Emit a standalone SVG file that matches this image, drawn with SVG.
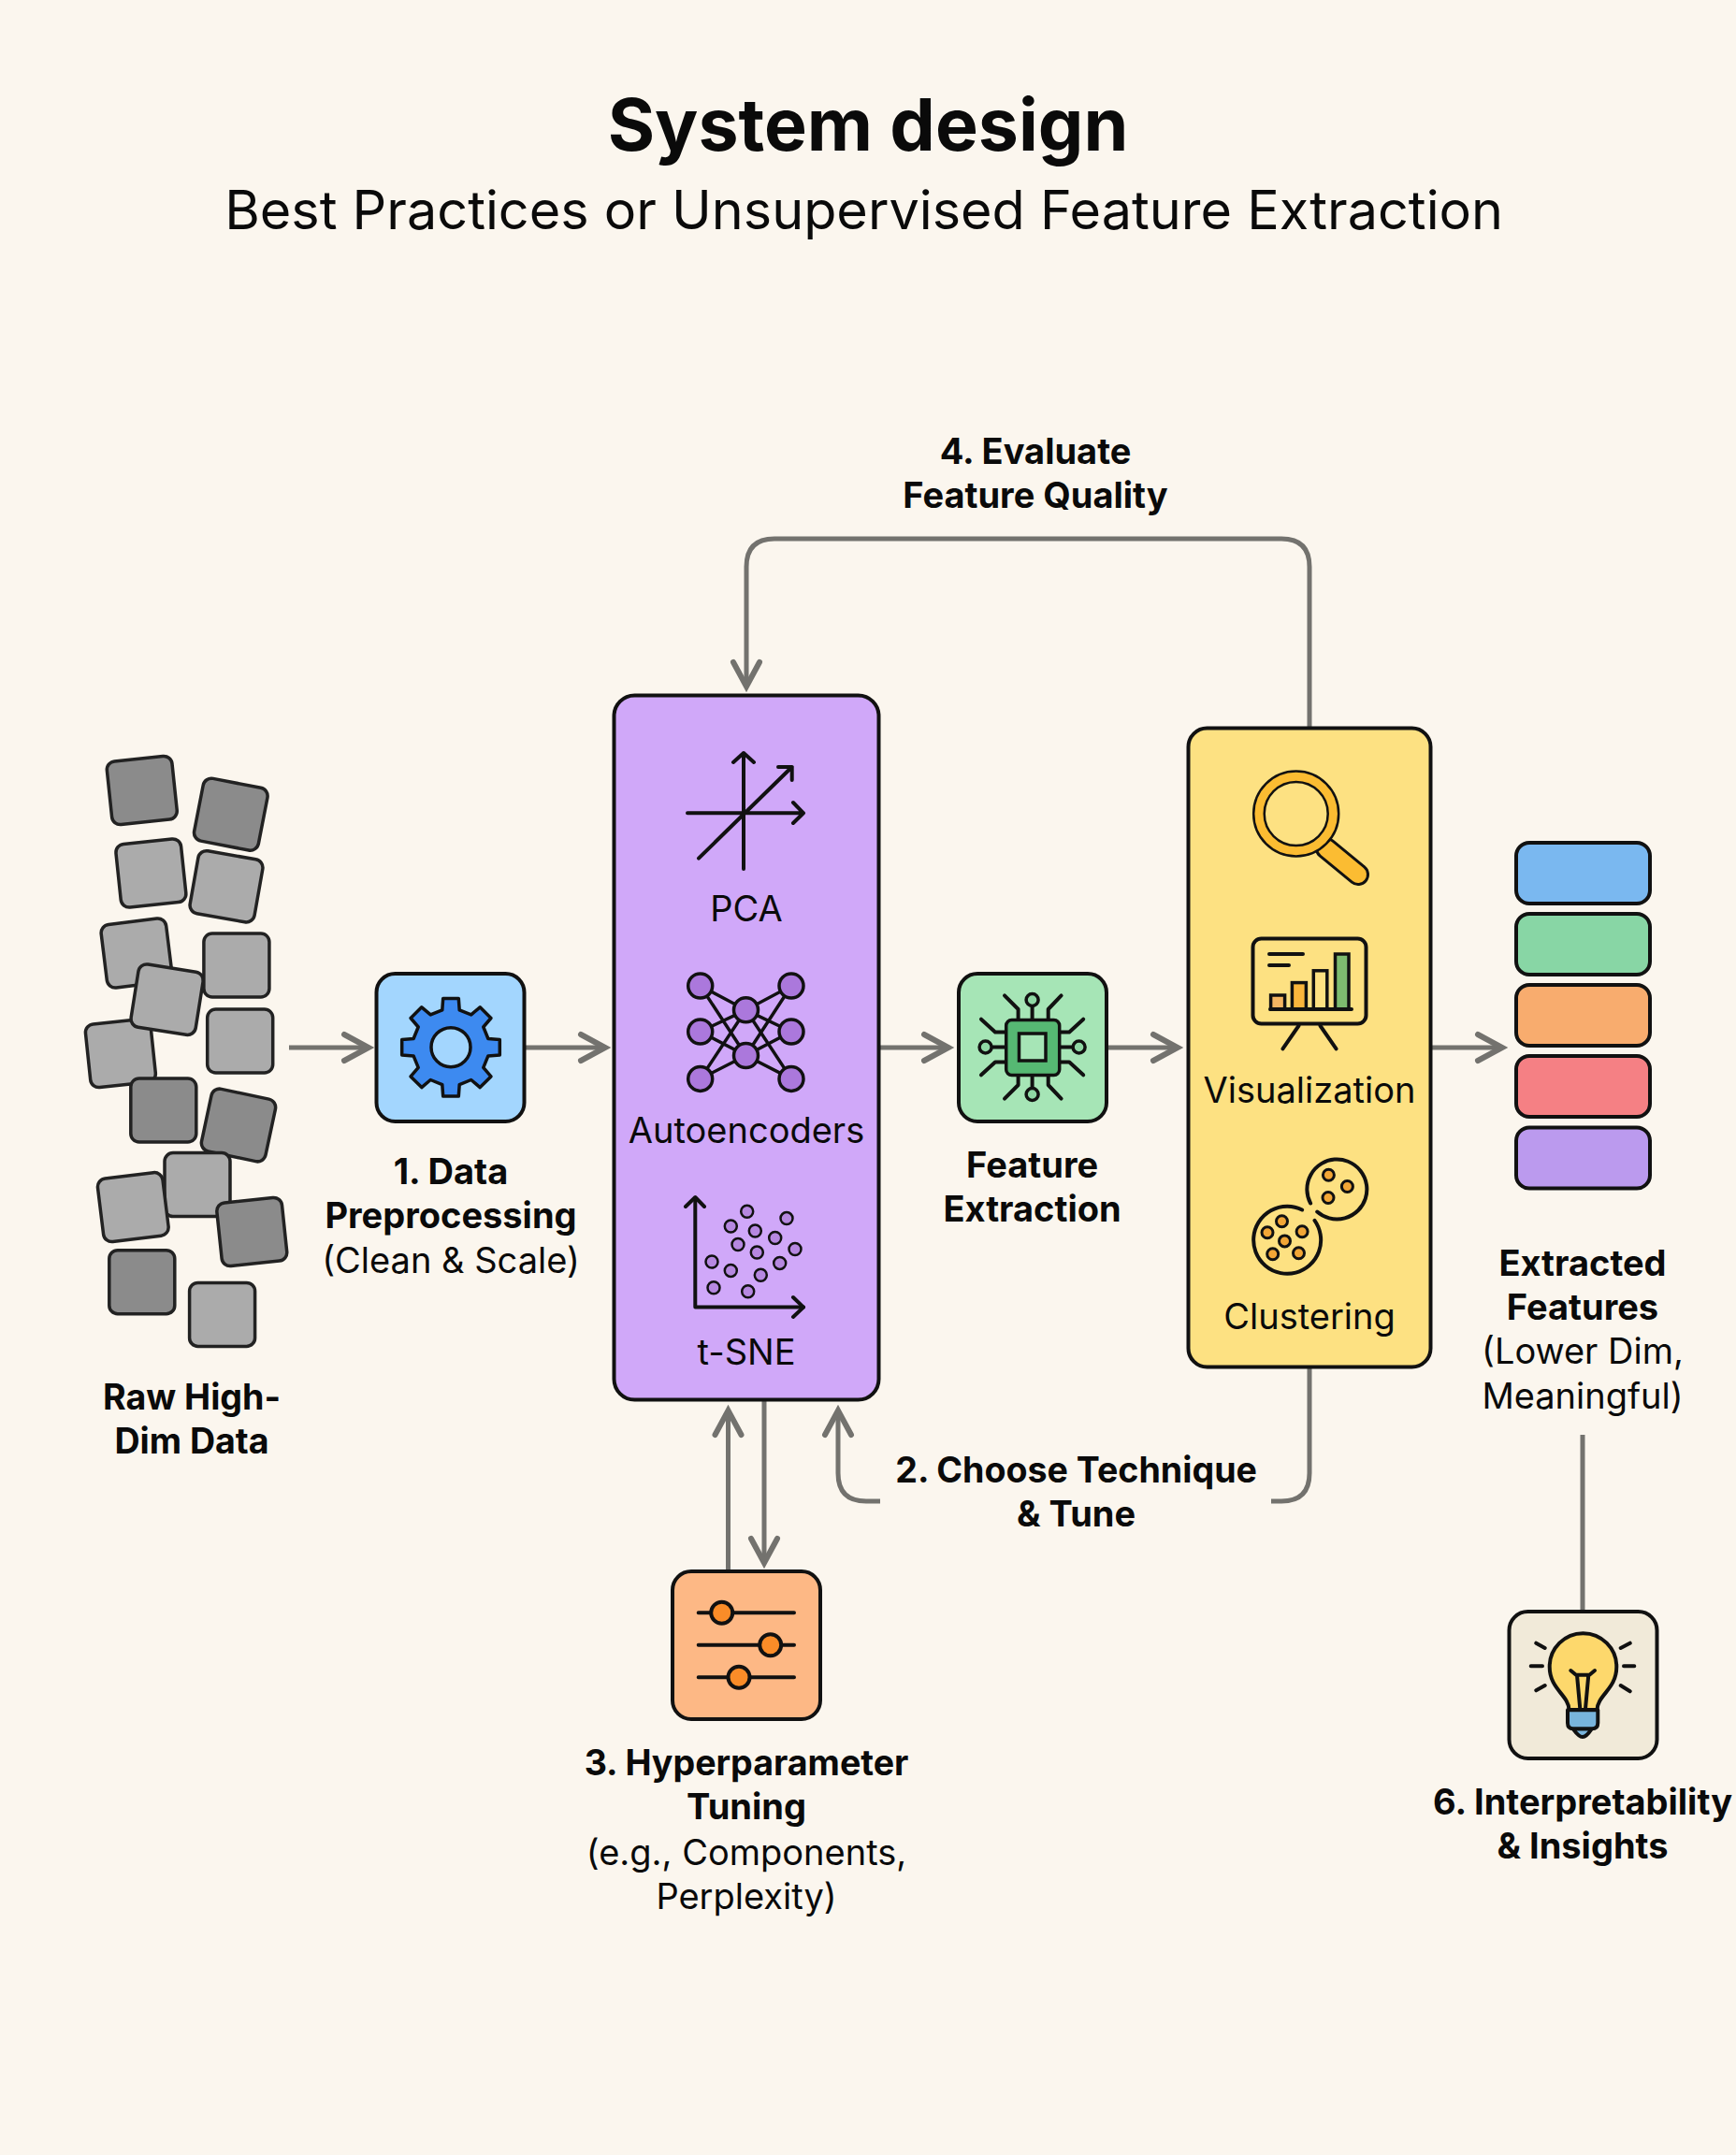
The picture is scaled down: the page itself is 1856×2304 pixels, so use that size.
<svg xmlns="http://www.w3.org/2000/svg" width="1856" height="2304" viewBox="0 0 1856 2304">
<style>
text{font-family:Inter,"Liberation Sans",sans-serif;fill:#0a0a0a;text-anchor:middle}
.t{font-size:77px;font-weight:700}
.s{font-size:57.5px;font-weight:400}
.b{font-size:38px;font-weight:700}
.b2{font-size:37.6px;font-weight:700}
.r{font-size:38px;font-weight:400}
.box{stroke:#111;stroke-width:4}
.tile{stroke:#222;stroke-width:3.5}
.d{fill:#8b8b8b}.l{fill:#ababab}
.ic{fill:none;stroke:#111;stroke-width:4;stroke-linecap:round;stroke-linejoin:round}
.con{fill:none;stroke:#73726e;stroke-width:5}
.a{marker-end:url(#arrow)}
</style>
<defs>
<marker id="arrow" markerUnits="userSpaceOnUse" markerWidth="60" markerHeight="60" refX="34" refY="30" orient="auto" overflow="visible"><path d="M8,16 L34,30 L8,44" fill="none" stroke="#73726e" stroke-width="6" stroke-linecap="round" stroke-linejoin="miter"/></marker>
</defs>
<rect id="background" width="1856" height="2304" fill="#fbf6ee"/>
<g id="title"><text class="t" x="928" y="161">System design</text><text class="s" x="923.6" y="245">Best Practices or Unsupervised Feature Extraction</text></g>

<g id="connectors">
<path class="con a" d="M309,1120H394"/>
<path class="con a" d="M561,1120H647"/>
<path class="con a" d="M940,1120H1014"/>
<path class="con a" d="M1183,1120H1259"/>
<path class="con a" d="M1530,1120H1606"/>
<path class="con a" d="M1400,778V606Q1400,576 1370,576H828Q798,576 798,606V734"/>
<path class="con a" d="M778.5,1680V1508"/>
<path class="con a" d="M817,1496V1671"/>
<path class="con" d="M1400,1461V1575Q1400,1605 1370,1605H1359"/>
<path class="con a" d="M941,1605H926Q896,1605 896,1575V1508"/>
<path class="con" d="M1692,1534V1723"/>
</g>

<g id="raw-data">
<g transform="translate(151.8,845) rotate(-6)"><rect class="tile d" x="-35" y="-34" width="70" height="68" rx="9"/></g>
<g transform="translate(246.8,870.7) rotate(11)"><rect class="tile d" x="-35" y="-34" width="70" height="68" rx="9"/></g>
<g transform="translate(161.4,933.5) rotate(-6)"><rect class="tile l" x="-35" y="-34" width="70" height="68" rx="9"/></g>
<g transform="translate(242,947.8) rotate(10)"><rect class="tile l" x="-35" y="-34" width="70" height="68" rx="9"/></g>
<g transform="translate(146,1019) rotate(-7)"><rect class="tile l" x="-35" y="-34" width="70" height="68" rx="9"/></g>
<g transform="translate(252.9,1032)"><rect class="tile l" x="-35" y="-34" width="70" height="68" rx="9"/></g>
<g transform="translate(128.9,1126) rotate(-6)"><rect class="tile l" x="-35" y="-34" width="70" height="68" rx="9"/></g>
<g transform="translate(178.6,1068.7) rotate(9)"><rect class="tile l" x="-35" y="-34" width="70" height="68" rx="9"/></g>
<g transform="translate(256.7,1113)"><rect class="tile l" x="-35" y="-34" width="70" height="68" rx="9"/></g>
<g transform="translate(174.8,1187)"><rect class="tile d" x="-35" y="-34" width="70" height="68" rx="9"/></g>
<g transform="translate(255,1203) rotate(12)"><rect class="tile d" x="-35" y="-34" width="70" height="68" rx="9"/></g>
<g transform="translate(211,1266.6)"><rect class="tile l" x="-35" y="-34" width="70" height="68" rx="9"/></g>
<g transform="translate(142.3,1290.6) rotate(-7)"><rect class="tile l" x="-35" y="-34" width="70" height="68" rx="9"/></g>
<g transform="translate(269.3,1317) rotate(-6)"><rect class="tile d" x="-35" y="-34" width="70" height="68" rx="9"/></g>
<g transform="translate(151.8,1370.7)"><rect class="tile d" x="-35" y="-34" width="70" height="68" rx="9"/></g>
<g transform="translate(237.6,1405.4)"><rect class="tile l" x="-35" y="-34" width="70" height="68" rx="9"/></g>
<text class="b2" x="205" y="1507">Raw High-</text><text class="b2" x="205" y="1554">Dim Data</text>
</g>

<g id="preprocessing">
<rect class="box" x="402.5" y="1041" width="158" height="158" rx="20" fill="#a3d6fe"/>
<g transform="translate(482,1119.7)">
<polygon fill="#3d8af0" stroke="#111" stroke-width="3.5" stroke-linejoin="round" points="-9.2,-39.9 -8.3,-52.3 8.3,-52.3 9.2,-39.9 21.7,-34.8 31.2,-42.9 42.9,-31.2 34.8,-21.7 39.9,-9.2 52.3,-8.3 52.3,8.3 39.9,9.2 34.8,21.7 42.9,31.2 31.2,42.9 21.7,34.8 9.2,39.9 8.3,52.3 -8.3,52.3 -9.2,39.9 -21.7,34.8 -31.2,42.9 -42.9,31.2 -34.8,21.7 -39.9,9.2 -52.3,8.3 -52.3,-8.3 -39.9,-9.2 -34.8,-21.7 -42.9,-31.2 -31.2,-42.9 -21.7,-34.8"/>
<circle r="21" fill="#a3d6fe" stroke="#111" stroke-width="3.5"/>
</g>
<text class="b" x="482" y="1266">1. Data</text><text class="b" x="482" y="1313">Preprocessing</text><text class="r" x="482" y="1361">(Clean &amp; Scale)</text>
</g>

<g id="techniques">
<rect class="box" x="656.5" y="743.5" width="283" height="753" rx="22" fill="#d0a8f9"/>
<path class="ic" d="M795,929V805M784,815L795,805L806,815M735,869.3H859M848,858L859,869.3L848,880M747,917.6L846.7,820M832,820H846.7V834"/>
<text class="r" x="798" y="985">PCA</text>
<g stroke="#111" stroke-width="3.5">
<path d="M748.7,1054L797.5,1079.8L748.7,1103L797.5,1128.5L748.7,1153.4L797.5,1079.8M748.7,1054L797.5,1128.5M846,1054L797.5,1079.8L846,1103L797.5,1128.5L846,1153.4L797.5,1079.8M846,1054L797.5,1128.5" fill="none"/>
<g fill="#ab78dc"><circle cx="748.7" cy="1054" r="13"/><circle cx="748.7" cy="1103" r="13"/><circle cx="748.7" cy="1153.4" r="13"/><circle cx="846" cy="1054" r="13"/><circle cx="846" cy="1103" r="13"/><circle cx="846" cy="1153.4" r="13"/><circle cx="797.5" cy="1079.8" r="13"/><circle cx="797.5" cy="1128.5" r="13"/></g>
</g>
<text class="r" x="798" y="1222">Autoencoders</text>
<path class="ic" d="M743.3,1281V1397.6H859"/><path class="ic" d="M733,1290L743.3,1280L753,1290M848,1387L859,1397.6L848,1408"/>
<g fill="#b688e0" stroke="#111" stroke-width="2.5"><circle cx="798.7" cy="1295.2" r="6.5"/><circle cx="781.3" cy="1311" r="6.5"/><circle cx="807.3" cy="1316" r="6.5"/><circle cx="841" cy="1302.6" r="6.5"/><circle cx="828.7" cy="1323.5" r="6.5"/><circle cx="789" cy="1330.5" r="6.5"/><circle cx="809.3" cy="1339" r="6.5"/><circle cx="850" cy="1335.5" r="6.5"/><circle cx="761" cy="1349" r="6.5"/><circle cx="781.3" cy="1358.4" r="6.5"/><circle cx="833.7" cy="1350.4" r="6.5"/><circle cx="813.3" cy="1363.3" r="6.5"/><circle cx="763" cy="1376.8" r="6.5"/><circle cx="799.7" cy="1380.7" r="6.5"/></g>
<text class="r" x="798" y="1459">t-SNE</text>
</g>

<g id="feature-extraction">
<rect class="box" x="1025" y="1041" width="158" height="158" rx="20" fill="#a6e5b6"/>
<g class="ic" stroke-width="3.5">
<path d="M1103.6,1090V1075M1103.6,1149V1164M1075.7,1119.5H1060M1131.5,1119.5H1147"/>
<path d="M1088.6,1090V1079L1074,1064.4M1120.7,1090V1079L1134.6,1064.4M1088.6,1149V1160L1074,1174.6M1120.7,1149V1160L1134.6,1174.6"/>
<path d="M1075.7,1103.4H1064L1049,1089.7M1075.7,1135.6H1064L1049,1149.3M1131.5,1103.4H1143.2L1158.2,1089.7M1131.5,1135.6H1143.2L1158.2,1149.3"/>
</g>
<g stroke="#111" stroke-width="3.5" fill="#8fd8a4"><circle cx="1103.6" cy="1069" r="6.5"/><circle cx="1103.6" cy="1170" r="6.5"/><circle cx="1053.6" cy="1119.5" r="6.5"/><circle cx="1153.6" cy="1119.5" r="6.5"/></g>
<rect x="1075.7" y="1090.5" width="57" height="59" rx="6" fill="#56b873" stroke="#111" stroke-width="3.5"/>
<rect x="1089.5" y="1105" width="28.5" height="29" fill="#a6e5b6" stroke="#111" stroke-width="3.5"/>
<text class="b" x="1103.6" y="1259">Feature</text><text class="b" x="1103.6" y="1306">Extraction</text>
</g>

<g id="analysis">
<rect class="box" x="1270.5" y="778.5" width="259" height="683" rx="20" fill="#fde182"/>
<line x1="1418" y1="907" x2="1452" y2="935" stroke="#111" stroke-width="24" stroke-linecap="round"/>
<line x1="1418" y1="907" x2="1452" y2="935" stroke="#fbbc32" stroke-width="18" stroke-linecap="round"/>
<circle cx="1385.7" cy="870" r="39.75" fill="#fde182" stroke="#111" stroke-width="14"/>
<circle cx="1385.7" cy="870" r="39.75" fill="none" stroke="#fbbc32" stroke-width="9"/>
<rect x="1339.5" y="1003.5" width="121" height="91" rx="9" fill="#fde182" stroke="#111" stroke-width="4"/>
<g stroke="#111" stroke-width="3.5"><rect x="1358.6" y="1064" width="15" height="15" fill="#f5b662"/><rect x="1381.4" y="1050.6" width="15" height="28.4" fill="#f9b53c"/><rect x="1404.3" y="1037.8" width="14.5" height="41.2" fill="#fde182"/><rect x="1427.5" y="1020" width="14.5" height="59" fill="#7dbb6f"/></g>
<path class="ic" d="M1358,1079H1445M1357,1020H1393M1357,1032H1378M1388.6,1096.5L1371.4,1121.3M1411.4,1096.5L1428.6,1121.3"/>
<text class="r" x="1400" y="1178.5">Visualization</text>
<g transform="translate(-2.5,-1.5)">
<path class="ic" d="M1408,1306.4A36,36 0 1 1 1394.6,1295M1403.6,1288A32,32 0 1 1 1410.7,1297"/>
<g fill="#f2a636" stroke="#111" stroke-width="3"><circle cx="1373" cy="1307.3" r="6"/><circle cx="1357.5" cy="1319.2" r="6"/><circle cx="1394.6" cy="1318.3" r="6"/><circle cx="1376" cy="1328.4" r="6"/><circle cx="1363.2" cy="1342.2" r="6"/><circle cx="1391" cy="1341.2" r="6"/><circle cx="1422.9" cy="1257.7" r="6"/><circle cx="1442.9" cy="1270" r="6"/><circle cx="1422.5" cy="1282" r="6"/></g>
</g>
<text class="r" x="1400" y="1420.5">Clustering</text>
</g>

<g id="extracted-features">
<rect class="box" x="1621" y="901" width="143" height="65" rx="14" fill="#7ab8f0"/>
<rect class="box" x="1621" y="977" width="143" height="65" rx="14" fill="#88d6a5"/>
<rect class="box" x="1621" y="1053" width="143" height="65" rx="14" fill="#f8ac6e"/>
<rect class="box" x="1621" y="1129" width="143" height="65" rx="14" fill="#f58084"/>
<rect class="box" x="1621" y="1205.5" width="143" height="65" rx="14" fill="#bb9aee"/>
<text class="b" x="1692" y="1364">Extracted</text><text class="b" x="1692" y="1411">Features</text><text class="r" x="1692" y="1458">(Lower Dim,</text><text class="r" x="1692" y="1506">Meaningful)</text>
</g>

<g id="tuning">
<rect class="box" x="719" y="1680" width="158" height="158" rx="20" fill="#fdb885"/>
<path class="ic" d="M746.7,1724.3H849M746.7,1758.7H849M746.7,1793.3H849"/>
<g fill="#fa8c28" stroke="#111" stroke-width="4"><circle cx="771.7" cy="1724.3" r="11.5"/><circle cx="823.7" cy="1758.7" r="11.5"/><circle cx="790" cy="1793.3" r="11.5"/></g>
<text class="b2" x="798" y="1898">3. Hyperparameter</text><text class="b" x="798" y="1945">Tuning</text><text class="r" x="798" y="1994">(e.g., Components,</text><text class="r" x="798" y="2041">Perplexity)</text>
</g>

<g id="insights">
<rect class="box" x="1613.5" y="1723" width="158" height="157" rx="20" fill="#f1ead9"/>
<path class="ic" style="fill:#fdd86c" d="M1677.5,1828C1677,1812 1656.7,1806 1656.7,1782A35.8,35.8 0 0 1 1728.3,1782C1728.3,1806 1708,1812 1707.5,1828Z"/>
<path class="ic" d="M1679.3,1786L1685,1790.7H1699.3L1705,1786M1686,1790.7L1689.3,1827M1698.3,1790.7L1695,1827"/>
<path style="fill:#78b4dc" class="ic" d="M1681.7,1848.3Q1688,1857 1692,1857Q1696,1857 1701.7,1848.3Z"/>
<path style="fill:#78b4dc" class="ic" d="M1676,1828.3H1708.3V1842Q1708.3,1848.3 1702,1848.3H1682Q1676,1848.3 1676,1842Z"/>
<path class="ic" d="M1642.3,1756.7L1651.7,1762M1636.7,1781.3H1649M1642.3,1807.3L1651.7,1802M1742.7,1756.7L1732.7,1762M1747.3,1781.3H1736M1742.7,1808.3L1732.7,1802"/>
</g>

<g id="labels">
<text class="b" x="1107" y="496">4. Evaluate</text><text class="b" x="1107" y="543">Feature Quality</text>
<text class="b2" x="1150.6" y="1585">2. Choose Technique</text><text class="b" x="1150.6" y="1632">&amp; Tune</text>
<text class="b" x="1692" y="1940">6. Interpretability</text><text class="b" x="1692" y="1987">&amp; Insights</text>
</g>
</svg>
